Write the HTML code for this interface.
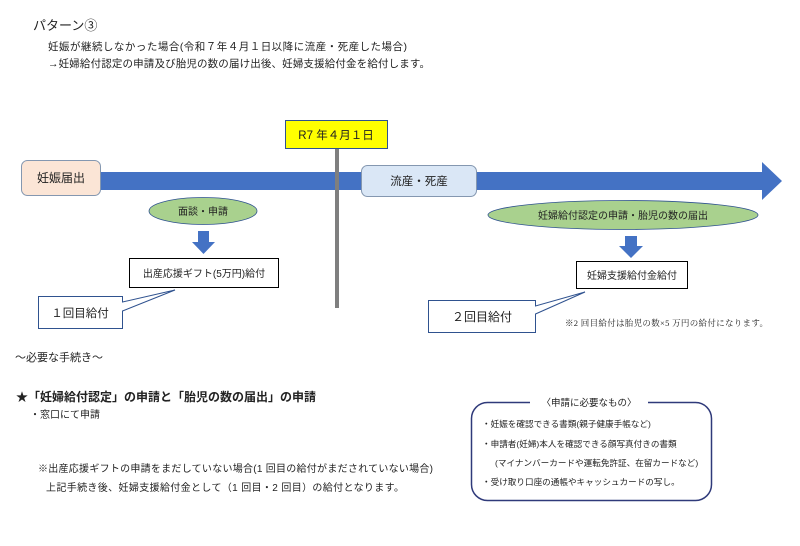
<!DOCTYPE html>
<html><head><meta charset="utf-8"><style>
html,body{margin:0;padding:0;background:#fff;}
svg{display:block;}
text{font-family:"Liberation Sans","Noto Sans CJK JP",sans-serif;fill:#222;}
</style></head><body>
<svg width="800" height="546" viewBox="0 0 800 546" xmlns="http://www.w3.org/2000/svg">
<text x="33" y="30" font-size="13">パターン③</text>
<text x="48" y="50" font-size="10.5" textLength="359" lengthAdjust="spacing">妊娠が継続しなかった場合(令和７年４月１日以降に流産・死産した場合)</text>
<text x="48" y="67" font-size="10.5" textLength="382" lengthAdjust="spacing">→妊婦給付認定の申請及び胎児の数の届け出後、妊婦支援給付金を給付します。</text>

<polygon points="60,172 762,172 762,162 782,181 762,200 762,190 60,190" fill="#4472c4"/>
<rect x="335" y="148" width="4" height="160" fill="#7f7f7f"/>
<rect x="285.5" y="120.5" width="102" height="28" fill="#ffff00" stroke="#2f528f"/>
<text x="336" y="139" font-size="11.5" text-anchor="middle">R7 年４月１日</text>

<rect x="21.5" y="160.5" width="79" height="35" rx="6" fill="#fbe5d6" stroke="#8497b0"/>
<text x="61" y="182" font-size="12" text-anchor="middle">妊娠届出</text>
<rect x="361.5" y="165.5" width="115" height="31" rx="6" fill="#dae7f6" stroke="#8497b0"/>
<text x="419" y="185" font-size="11.5" text-anchor="middle">流産・死産</text>

<ellipse cx="203" cy="211" rx="54" ry="13.5" fill="#a9d18e" stroke="#2f528f" stroke-width="0.8"/>
<text x="203" y="215" font-size="10" text-anchor="middle">面談・申請</text>
<polygon points="198,231 209,231 209,242 215,242 203.5,254 192,242 198,242" fill="#4472c4"/>
<rect x="129.5" y="258.5" width="149" height="29" fill="#fff" stroke="#000"/>
<text x="204" y="277" font-size="10" text-anchor="middle">出産応援ギフト(5万円)給付</text>
<path d="M38.5,296.5 H122.5 V302 L175,290 L122.5,311 V328.5 H38.5 Z" fill="#fff" stroke="#2f528f"/>
<text x="80" y="317" font-size="11.5" text-anchor="middle">１回目給付</text>

<ellipse cx="623" cy="215" rx="135" ry="14.5" fill="#a9d18e" stroke="#2f528f" stroke-width="0.8"/>
<text x="623" y="219" font-size="10" text-anchor="middle">妊婦給付認定の申請・胎児の数の届出</text>
<polygon points="625,236 637,236 637,246 643,246 631,258 619,246 625,246" fill="#4472c4"/>
<rect x="576.5" y="261.5" width="111" height="27" fill="#fff" stroke="#000"/>
<text x="632" y="279" font-size="10" text-anchor="middle">妊婦支援給付金給付</text>
<path d="M428.5,300.5 H535.5 V306 L585,292 L535.5,314 V332.5 H428.5 Z" fill="#fff" stroke="#2f528f"/>
<text x="482" y="321" font-size="12" text-anchor="middle">２回目給付</text>
<text x="565" y="326" font-size="8.5" textLength="203" lengthAdjust="spacing" style="font-family:'Liberation Serif','Noto Serif CJK SC',serif">※2 回目給付は胎児の数×5 万円の給付になります。</text>

<text x="15" y="361" font-size="11">～必要な手続き～</text>
<text x="16" y="401" font-size="12" font-weight="bold">★「妊婦給付認定」の申請と「胎児の数の届出」の申請</text>
<text x="30" y="418" font-size="10">・窓口にて申請</text>
<text x="38" y="472" font-size="10" textLength="395" lengthAdjust="spacing">※出産応援ギフトの申請をまだしていない場合(1 回目の給付がまだされていない場合)</text>
<text x="46" y="491" font-size="10" textLength="358" lengthAdjust="spacing">上記手続き後、妊婦支援給付金として（1 回目・2 回目）の給付となります。</text>

<rect x="471.5" y="402.5" width="240" height="98" rx="16" fill="#fff" stroke="#2f3a7a" stroke-width="1.5"/>
<rect x="530" y="396" width="118" height="12" fill="#fff"/>
<text x="589" y="406" font-size="9.5" text-anchor="middle">〈申請に必要なもの〉</text>
<text x="482" y="427" font-size="8.6">・妊娠を確認できる書類(親子健康手帳など)</text>
<text x="482" y="447" font-size="8.6">・申請者(妊婦)本人を確認できる顔写真付きの書類</text>
<text x="495" y="466" font-size="8.6">(マイナンバーカードや運転免許証、在留カードなど)</text>
<text x="482" y="485" font-size="8.6">・受け取り口座の通帳やキャッシュカードの写し。</text>
</svg>
</body></html>
